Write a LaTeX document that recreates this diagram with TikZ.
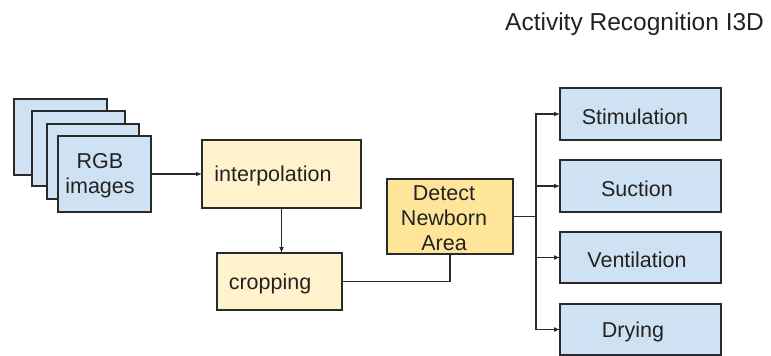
\documentclass[tikz,border=0pt]{standalone}
\usepackage{fontspec}
\setmainfont{Liberation Sans}
\usetikzlibrary{arrows.meta}
\definecolor{boxblue}{HTML}{CFE2F3}
\definecolor{boxcream}{HTML}{FFF2CC}
\definecolor{boxgold}{HTML}{FFE599}
\definecolor{edge}{HTML}{2A2A2A}
\definecolor{ink}{HTML}{222222}
\tikzset{
  box/.style={draw=edge, line width=1.5pt, inner sep=0pt, outer sep=0pt},
  lbl/.style={text=ink, font=\fontsize{21.5}{25}\selectfont, inner sep=0pt, align=center},
  link/.style={draw=edge, line width=1.4pt},
  flow/.style={link, -{Latex[length=6pt,width=5pt]}}
}
\begin{document}
\begin{tikzpicture}[x=1pt,y=-1pt]
\useasboundingbox (0,0) rectangle (771,356);

% title
\node[anchor=base west, text=ink, inner sep=0pt, font=\fontsize{24.5}{28}\selectfont]
  (title) at (505,30) {Activity Recognition I3D};

% stack of frames
\node[box, fill=boxblue, minimum width=93pt, minimum height=76pt] (f1) at (60.5,137) {};
\node[box, fill=boxblue, minimum width=93pt, minimum height=75pt] (f2) at (78.5,148.5) {};
\node[box, fill=boxblue, minimum width=92pt, minimum height=75pt] (f3) at (93,161.5) {};
\node[box, fill=boxblue, minimum width=93pt, minimum height=76pt] (rgb) at (104.5,174) {};
\node[lbl] (rgbT) at (100,176) {RGB\\images};

% preprocessing
\node[box, fill=boxcream, minimum width=159pt, minimum height=68pt] (interp) at (281.5,174) {};
\node[lbl] (interpT) at (273,176) {interpolation};
\node[box, fill=boxcream, minimum width=125pt, minimum height=57pt] (crop) at (279.5,281.5) {};
\node[lbl] (cropT) at (270,284) {cropping};

% detection
\node[box, fill=boxgold, minimum width=126pt, minimum height=75pt] (detect) at (450,216.5) {};
\node[lbl] (detectT) at (444,218) {Detect\\Newborn\\Area};

% activity classes
\node[box, fill=boxblue, minimum width=161pt, minimum height=52pt] (stim) at (640.5,114) {};
\node[lbl] (stimT) at (635,117) {Stimulation};
\node[box, fill=boxblue, minimum width=161pt, minimum height=52pt] (suc) at (640.5,186) {};
\node[lbl] (sucT) at (637,189) {Suction};
\node[box, fill=boxblue, minimum width=161pt, minimum height=51pt] (vent) at (640.5,257.5) {};
\node[lbl] (ventT) at (637,260) {Ventilation};
\node[box, fill=boxblue, minimum width=161pt, minimum height=51pt] (dry) at (640.5,329.5) {};
\node[lbl] (dryT) at (633,332) {Drying};

% connectors
\draw[flow] (rgb.east) -- (rgb.east -| interp.west);
\draw[flow] (interp.south) -- (interp.south |- crop.north);
\draw[link] (crop.east) -| (detect.south);
\coordinate (trunk) at (536,216.5);
\draw[link] (detect.east) -- (trunk);
\draw[flow] (trunk) |- (stim.west);
\draw[flow] (trunk) |- (suc.west);
\draw[flow] (trunk) |- (vent.west);
\draw[flow] (trunk) |- (dry.west);
\end{tikzpicture}
\end{document}
